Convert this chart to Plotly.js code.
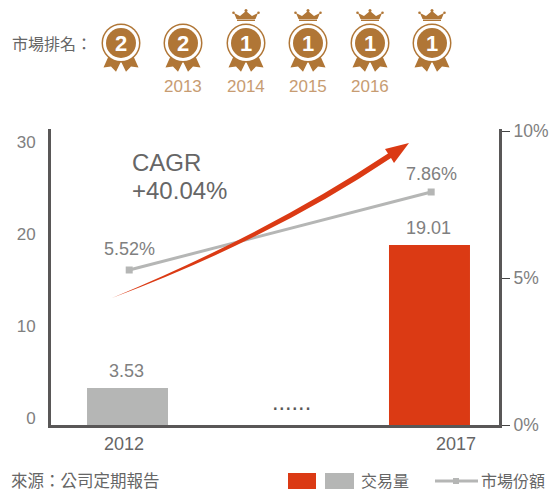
<!DOCTYPE html>
<html><head><meta charset="utf-8">
<script src="https://cdn.plot.ly/plotly-3.0.1.min.js"></script>
<style>html,body{margin:0;padding:0;background:#fff}</style></head>
<body><div id="chart" style="width:556px;height:492px"></div>
<script>
const years = [2012, 2017];
const volume = [3.53, 19.01];
const share = [5.52, 7.86];
const volumeLabels = ['3.53', '19.01'];
const shareLabels = ['5.52%', '7.86%'];
const barColors = ['#b5b6b5', '#db3a14'];
const rankValues = ['2', '2', '1', '1', '1', '1'];
const rankYears = ['', '2013', '2014', '2015', '2016', ''];

const SANS = 'Liberation Sans, Arial, sans-serif';
const CJK = 'Noto Sans CJK TC, Liberation Sans, sans-serif';
const GREY = '#808080', DARK = '#595757', TXT = '#666666', BRONZE = '#b07636', RED = '#db3a14';
const L = 51, R = 499, T = 129, B = 425;
const X = p => (p - L) / (R - L);
const Y = p => (B - p) / (B - T);
const path = segs => segs.map(s => s[0] + s.slice(1).map((v, i) => (i % 2 === 0 ? X(v) : Y(v)).toFixed(5)).join(' ')).join(' ');
const shp = o => Object.assign({xref: 'paper', yref: 'paper', line: {width: 0}}, o);
const rect = (x0, y0, x1, y1, c) => shp({type: 'rect', x0: X(x0), x1: X(x1), y0: Y(y0), y1: Y(y1), fillcolor: c});
const circ = (cx, cy, r, o) => shp(Object.assign({type: 'circle', x0: X(cx - r), x1: X(cx + r), y0: Y(cy - r), y1: Y(cy + r)}, o));
const note = (px, py, text, size, color, font, anchor, extra) => Object.assign({
  xref: 'paper', yref: 'paper', x: X(px), y: Y(py), text, showarrow: false,
  xanchor: anchor || 'center', yanchor: 'middle', borderpad: 0,
  font: {size, color, family: font || SANS}
}, extra || {});

const medalX = [121, 183, 246, 308, 370, 432];
const shapes = [], annotations = [];
rankValues.forEach((r, i) => {
  const c = medalX[i];
  shapes.push(shp({type: 'path', fillcolor: BRONZE, path: path([
    ['M', c - 11, 53], ['L', c - 17.5, 67.5], ['L', c - 10, 66.5], ['L', c - 5, 71.8], ['L', c, 61.5],
    ['L', c + 5, 71.8], ['L', c + 10, 66.5], ['L', c + 17.5, 67.5], ['L', c + 11, 53], ['Z']])}));
  shapes.push(circ(c, 43, 19.5, {fillcolor: BRONZE}));
  shapes.push(circ(c, 43, 18, {fillcolor: '#ffffff'}));
  shapes.push(circ(c, 43, 15, {fillcolor: BRONZE}));
  annotations.push(note(c, 43.5, '<b>' + r + '</b>', 22, '#ffffff'));
  if (r === '1') {
    shapes.push(shp({type: 'path', fillcolor: BRONZE, path: path([
      ['M', c - 9.5, 19], ['L', c - 12, 13], ['L', c - 6, 16], ['L', c, 11], ['L', c + 6, 16], ['L', c + 12, 13], ['L', c + 9.5, 19], ['Z'],
      ['M', c - 9, 19.6], ['L', c + 9, 19.6], ['L', c + 9, 21], ['L', c - 9, 21], ['Z']])}));
    shapes.push(circ(c - 12.5, 12.7, 1.3, {fillcolor: BRONZE}));
    shapes.push(circ(c + 12.5, 12.7, 1.3, {fillcolor: BRONZE}));
    shapes.push(circ(c, 10.5, 1.5, {fillcolor: BRONZE}));
  }
  if (rankYears[i]) annotations.push(note(c, 86, rankYears[i], 17, '#c79c72'));
});

// growth arrow
shapes.push(shp({type: 'path', fillcolor: RED, path: path([
  ['M', 112, 298], ['Q', 268, 233, 388, 153.5], ['L', 385, 149], ['L', 409, 143], ['L', 394, 163], ['L', 391, 158],
  ['Q', 272, 238, 112, 298], ['Z']])}));

// legend
shapes.push(rect(288, 473, 316, 489, RED));
shapes.push(rect(325, 473, 354, 489, '#b5b6b5'));
shapes.push(shp({type: 'line', x0: X(435), x1: X(478), y0: Y(481), y1: Y(481), line: {color: '#b5b6b5', width: 3}}));
shapes.push(rect(453, 478, 459, 484, '#b5b6b5'));

annotations.push(
  note(11, 43, '市場排名：', 16, TXT, CJK, 'left'),
  note(10, 480, '來源：公司定期報告', 16.5, TXT, CJK, 'left'),
  note(360, 480, '交易量', 16, TXT, CJK, 'left'),
  note(480, 480, '市場份額', 16, TXT, CJK, 'left'),
  note(131, 162, 'CAGR', 24, TXT, SANS, 'left'),
  note(131, 190.5, '+40.04%', 24, TXT, SANS, 'left'),
  note(291, 402, '......', 23.5, DARK)
);
volume.forEach((v, i) => annotations.push({
  xref: 'x', yref: 'y4', x: years[i], y: v, text: volumeLabels[i], showarrow: false,
  xanchor: 'center', yanchor: 'bottom', yshift: 5.5, xshift: -1, borderpad: 0,
  font: {size: 18, color: GREY, family: SANS}
}));
share.forEach((v, i) => annotations.push({
  xref: 'x2', yref: 'y3', x: years[i], y: v, text: shareLabels[i], showarrow: false,
  xanchor: 'center', yanchor: 'bottom', yshift: i === 0 ? 10.5 : 7.5, borderpad: 0,
  font: {size: 18, color: GREY, family: SANS}
}));

const xMin = 2010.733, xMax = 2018.151;
const traces = [
  {type: 'bar', x: years, base: -0.476, y: volume.map(v => v + 0.476), width: 1.341, yaxis: 'y4',
   marker: {color: barColors, line: {width: 0}}, hoverinfo: 'skip'},
  {type: 'scatter', mode: 'lines+markers', x: years, y: share, xaxis: 'x2', yaxis: 'y3',
   line: {color: '#b5b6b5', width: 3}, marker: {symbol: 'square', size: 7, color: '#b5b6b5'},
   cliponaxis: false, hoverinfo: 'skip'},
  {type: 'scatter', mode: 'markers', x: [], y: [], yaxis: 'y2', hoverinfo: 'skip'},
  {type: 'scatter', mode: 'markers', x: [], y: [], hoverinfo: 'skip'}
];
const layout = {
  width: 556, height: 492, showlegend: false, plot_bgcolor: 'rgba(0,0,0,0)', paper_bgcolor: '#fff',
  margin: {l: L, r: 556 - R, t: T, b: 492 - B, pad: 0},
  font: {family: SANS, size: 17, color: GREY},
  xaxis: {range: [xMin, xMax], tickmode: 'array', tickvals: [2011.94, 2017.44], ticktext: ['2012', '2017'],
    showgrid: false, zeroline: false, showline: true, linecolor: DARK, linewidth: 3, ticks: '', ticklabelstandoff: 0,
    tickfont: {size: 18, color: TXT, family: SANS}},
  yaxis: {range: [-0.707, 31.47], tickmode: 'array', tickvals: [0, 10, 20, 30], showgrid: false, zeroline: false,
    showline: true, linecolor: DARK, linewidth: 3, ticks: '', ticklabelstandoff: 9,
    tickfont: {size: 17, color: GREY, family: SANS}},
  yaxis2: {overlaying: 'y', side: 'right', range: [0, 10.068], tickmode: 'array', tickvals: [0, 5, 10], ticktext: ['0%', '5%', '10%'],
    showgrid: false, zeroline: false, showline: true, linecolor: DARK, linewidth: 3, ticks: 'outside', ticklen: 8, tickwidth: 1, tickcolor: '#444',
    tickfont: {size: 17.5, color: GREY, family: SANS}},
  xaxis2: {overlaying: 'x', range: [xMin - 0.028, xMax - 0.028], visible: false},
  yaxis3: {overlaying: 'y', range: [0.87, 9.75], visible: false},
  yaxis4: {overlaying: 'y', range: [-0.476, 31.56], visible: false},
  shapes, annotations
};
Plotly.newPlot('chart', traces, layout, {displayModeBar: false, staticPlot: true});
</script></body></html>
